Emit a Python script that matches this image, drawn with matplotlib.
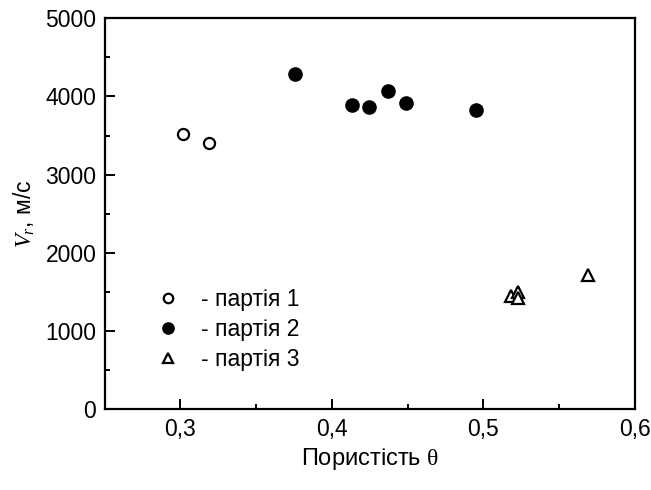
import matplotlib
matplotlib.use("Agg")
import matplotlib.pyplot as plt
from matplotlib.ticker import MultipleLocator

plt.rcParams['font.family'] = ['Liberation Sans', 'DejaVu Sans']
plt.rcParams['mathtext.fontset'] = 'custom'
plt.rcParams['mathtext.rm'] = 'Liberation Serif'
plt.rcParams['mathtext.it'] = 'Liberation Serif:italic'

# porosity and velocity for each batch
batch1_theta = [0.302, 0.319]
batch1_v = [3515, 3400]
batch2_theta = [0.3756, 0.413, 0.4247, 0.4372, 0.4487, 0.4949]
batch2_v = [4280, 3885, 3865, 4065, 3915, 3830]
batch3_theta = [0.5186, 0.5226, 0.5226, 0.5692]
batch3_v = [1445, 1500, 1425, 1720]
labels = ["- партія 1", "- партія 2", "- партія 3"]

fig = plt.figure(figsize=(6.51, 4.90), dpi=100)
ax = fig.add_axes([0.1608, 0.1643, 0.8142, 0.7987])

ax.plot(batch1_theta, batch1_v, 'o', ls='none', ms=8, mfc='white', mec='black',
        mew=1.6, label=labels[0])
ax.plot(batch2_theta, batch2_v, 'o', ls='none', ms=9.5, mfc='black', mec='black',
        label=labels[1])
ax.plot(batch3_theta, batch3_v, '^', ls='none', ms=9, mfc='white', mec='black',
        mew=1.6, label=labels[2])

ax.set_xlim(0.25, 0.6)
ax.set_ylim(0, 5000)
ax.xaxis.set_major_locator(MultipleLocator(0.1))
ax.xaxis.set_minor_locator(MultipleLocator(0.05))
ax.yaxis.set_major_locator(MultipleLocator(1000))
ax.yaxis.set_minor_locator(MultipleLocator(500))
ax.xaxis.set_major_formatter(lambda v, p: f"{v:.1f}".replace('.', ','))

for s in ax.spines.values():
    s.set_linewidth(1.6)
ax.tick_params(which='both', direction='in', top=False, right=False,
               labelsize=16.5, width=1.4, pad=6)
ax.tick_params(which='major', length=7)
ax.tick_params(which='minor', length=3.5)

ax.set_xlabel("Пористість $\\mathrm{\\theta}$", fontsize=17, labelpad=4)
ax.set_ylabel("$V_r$, м/с", fontsize=16.5, labelpad=6)

leg = ax.legend(loc='lower left', bbox_to_anchor=(0.083, 0.075), frameon=False,
                fontsize=16.5, handlelength=0.9, handletextpad=1.0,
                labelspacing=0.3, borderaxespad=0, markerscale=0.85)

fig.savefig("out.png", dpi=100)
